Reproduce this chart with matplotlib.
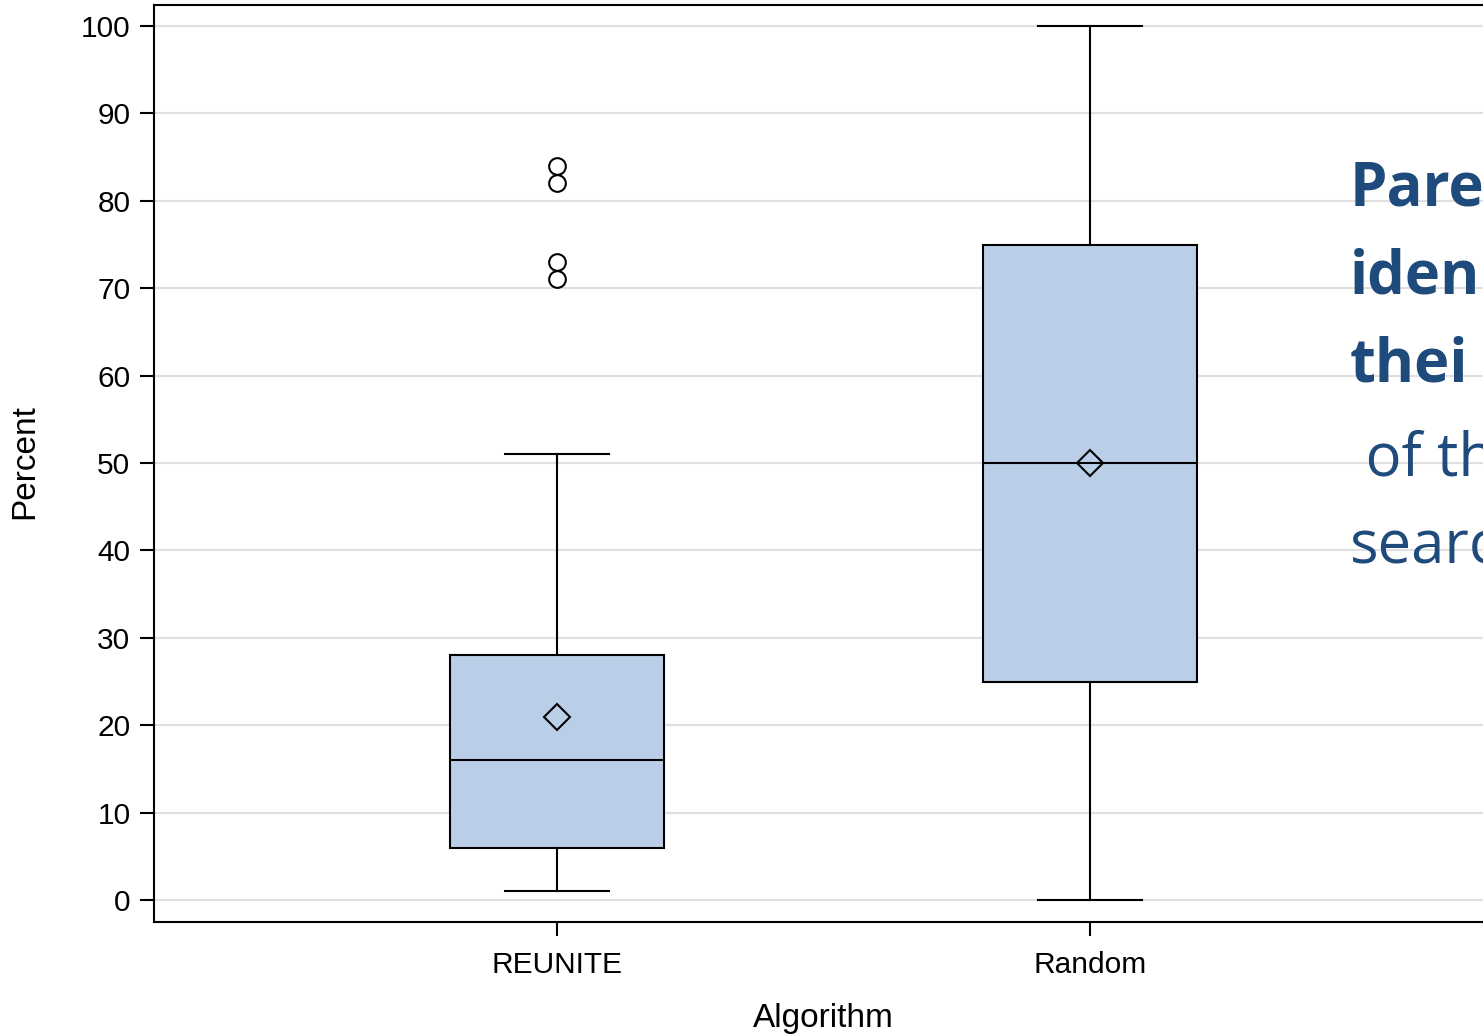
import matplotlib
matplotlib.use("Agg")
import matplotlib.pyplot as plt

categories = ["REUNITE", "Random"]
q1 = [6, 25]
median = [16, 50]
q3 = [28, 75]
whisker_low = [1, 0]
whisker_high = [51, 100]
means = [21, 50]
outliers = [[71, 73, 82, 84], []]
y_ticks = [0, 10, 20, 30, 40, 50, 60, 70, 80, 90, 100]
overlay_lines = [("Pare", "bold"), ("iden", "bold"), ("thei", "bold"),
                 (" of th", "normal"), ("searc", "normal")]

W, H = 1483, 1035
fig = plt.figure(figsize=(W / 100, H / 100), dpi=100)
ax = fig.add_axes([154 / W, 1 - 922 / H, (1493 - 154) / W, (922 - 5) / H])

stats = []
for i, c in enumerate(categories):
    stats.append(dict(label=c, q1=q1[i], med=median[i], q3=q3[i],
                      whislo=whisker_low[i], whishi=whisker_high[i],
                      mean=means[i], fliers=outliers[i]))

lw = 1.5
ax.bxp(stats, positions=range(len(categories)), widths=0.4, patch_artist=True,
       showmeans=True, showfliers=True,
       boxprops=dict(facecolor="#BACFE7", edgecolor="black", linewidth=lw),
       medianprops=dict(color="black", linewidth=lw),
       whiskerprops=dict(color="black", linewidth=lw),
       capprops=dict(color="black", linewidth=lw),
       capwidths=0.195,
       meanprops=dict(marker="D", markerfacecolor="none", markeredgecolor="black",
                      markersize=13.5, markeredgewidth=1.5),
       flierprops=dict(marker="o", markerfacecolor="none", markeredgecolor="black",
                       markersize=12, markeredgewidth=1.5),
       zorder=3)

ax.set_xlim(-403 / 533, 1 + 403 / 533)
ax.set_ylim(-2.5, 102.4)
ax.set_yticks(y_ticks)
ax.set_xticks(range(len(categories)))
ax.set_xticklabels(categories)
ax.yaxis.grid(True, color="#E0E0E0", linewidth=1.5, zorder=0)
ax.set_axisbelow(True)
for s in ax.spines.values():
    s.set_linewidth(1.5)
ax.tick_params(axis="both", direction="out", length=10, width=1.5,
               labelsize=21.5)
ax.tick_params(axis="y", pad=7)
ax.tick_params(axis="x", pad=11)
for lab in ax.get_xticklabels() + ax.get_yticklabels():
    lab.set_fontfamily("Liberation Sans")

fig.text(25 / W, 1 - 462 / H, "Percent", rotation=90, ha="center", va="center",
         fontsize=24, family="Liberation Sans")
fig.text(823 / W, 1 - 1018 / H, "Algorithm", ha="center", va="center",
         fontsize=24, family="Liberation Sans")

baselines = [205, 293, 381, 475, 563]
for (txt, wt), yb in zip(overlay_lines, baselines):
    fig.text(1350 / W, 1 - yb / H, txt, ha="left", va="baseline",
             fontsize=43, fontweight=wt, color="#1F4A7C", family="Open Sans")

fig.savefig("out.png", dpi=100)
